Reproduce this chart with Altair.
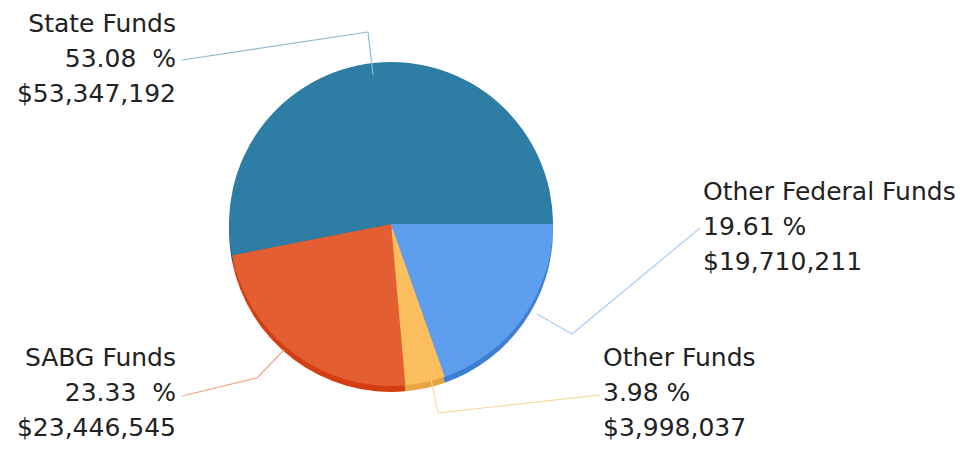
import altair as alt
import pandas as pd

# Data
categories = ["Other Federal Funds", "Other Funds", "SABG Funds", "State Funds"]
amounts = [19710211, 3998037, 23446545, 53347192]
percent_labels = ["19.61 %", "3.98 %", "23.33\u00a0 %", "53.08\u00a0 %"]
amount_labels = ["$19,710,211", "$3,998,037", "$23,446,545", "$53,347,192"]
order_idx = [0, 1, 2, 3]

# Styles
top_colors = ["#5E9EEF", "#FBBE5E", "#E35F32", "#2E7DA5"]
side_colors = ["#3F7FD2", "#E7A443", "#D43F12", "#21648A"]
line_colors = ["#A9CBF5", "#FCD59A", "#F0A48A", "#8FB9CF"]

CX, CY, R = 391, 224, 162
FONT = "DejaVu Sans"
FS = 25

df = pd.DataFrame({"category": categories, "amount": amounts, "idx": order_idx})

theta = alt.Theta("amount:Q", stack=True,
                  scale=alt.Scale(range=[1.5707963, 1.5707963 + 6.2831853]))

side = alt.Chart(df).mark_arc(radius=R, yOffset=6).encode(
    theta=theta,
    order=alt.Order("idx:Q"),
    color=alt.Color("category:N", scale=alt.Scale(domain=categories, range=side_colors), legend=None),
    x=alt.value(CX), y=alt.value(CY),
)

top = alt.Chart(df).mark_arc(radius=R).encode(
    theta=theta,
    order=alt.Order("idx:Q"),
    color=alt.Color("category:N", scale=alt.Scale(domain=categories, range=top_colors), legend=None),
    x=alt.value(CX), y=alt.value(CY),
)

# label placement (annotation layout)
label_pos = {
    "State Funds": (176, 24, "right"),
    "Other Federal Funds": (703, 192, "left"),
    "Other Funds": (603, 358, "left"),
    "SABG Funds": (176, 358, "right"),
}
leaders = {
    "State Funds": [(182, 60), (368, 32), (373, 75)],
    "Other Federal Funds": [(700, 228), (572, 334), (537, 314)],
    "Other Funds": [(600, 395), (438, 413), (431, 379)],
    "SABG Funds": [(182, 396), (257, 378), (284, 350)],
}

layers = []
for i, cat in enumerate(categories):
    pts = leaders[cat]
    for (x1, y1), (x2, y2) in zip(pts[:-1], pts[1:]):
        layers.append(
            alt.Chart(df.iloc[[i]]).mark_rule(color=line_colors[i], strokeWidth=1.2).encode(
                x=alt.value(x1), y=alt.value(y1), x2=alt.value(x2), y2=alt.value(y2)
            )
        )

for i, cat in enumerate(categories):
    lx, ly, al = label_pos[cat]
    lines = [cat, percent_labels[i], amount_labels[i]]
    for j, t in enumerate(lines):
        layers.append(
            alt.Chart(pd.DataFrame({"t": [t]})).mark_text(
                align=al, baseline="middle", font=FONT, fontSize=FS, color="#222222"
            ).encode(text="t:N", x=alt.value(lx), y=alt.value(ly + 35 * j))
        )

chart = alt.layer(side, top, *layers).resolve_scale(color="independent").properties(
    width=963, height=452, padding=0, autosize="none"
).configure_view(stroke=None)

chart.save("out.html", embed_options={"renderer": "svg", "actions": False})
